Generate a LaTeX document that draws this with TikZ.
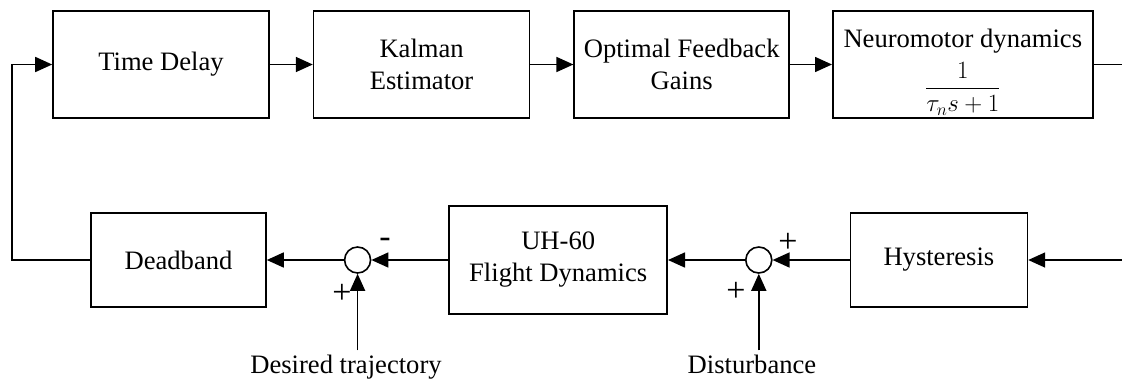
\documentclass[tikz,border=0pt]{standalone}
\usepackage{fontspec}
\setmainfont{Liberation Serif}
\usetikzlibrary{positioning,arrows.meta}

\begin{document}
\begin{tikzpicture}[->,>={Triangle[length=17pt,width=15pt]},x=1pt,y=-1pt,line width=1.6pt,node distance=43pt,font=\fontsize{26.6}{32}\selectfont]
\tikzstyle{block}=[draw,rectangle,align=center,minimum height=107pt,inner sep=0pt]
\tikzstyle{sum}=[draw,circle,minimum size=26pt,inner sep=0pt]
\tikzstyle{sign}=[font=\fontsize{34}{34}\selectfont,inner sep=0pt]
\useasboundingbox (0,0) rectangle (1122,381);
% forward path
\node[block,minimum width=216pt] (td) at (161,64.5) {Time Delay};
\node[block,minimum width=216pt] (kal) [right=of td] {Kalman\\Estimator};
\node[block,minimum width=215pt] (ofg) [right=of kal] {Optimal Feedback\\Gains};
\node[block,minimum width=260pt] (neuro) [right=42pt of ofg] {\rule{0pt}{34pt}Neuromotor dynamics\\[8pt]$\displaystyle\frac{1}{\tau_n s+1}$};
\coordinate (outR) at (1122,64.5);
% return path
\node[block,minimum width=175pt,minimum height=94pt] (dead) at (178.5,260) {Deadband};
\node[sum] (sum1) [right=77pt of dead] {};
\node[block,minimum width=218pt,minimum height=108pt] (uh) [right=77pt of sum1] {UH-60\\Flight Dynamics};
\node[sum] (sum2) [right=77pt of uh] {};
\node[block,minimum width=177pt,minimum height=94pt] (hyst) [right=77pt of sum2] {Hysteresis};
\coordinate (inR) at (1122,260);
\coordinate (fb) at (12,260);
\node[anchor=base] (dt) at (346,373) {Desired trajectory};
\node[anchor=base] (dist) at (752,373) {Disturbance};
% signs
\node[sign] (m1) at (385,243) {-};
\node[sign] (p1) at (342,294) {+};
\node[sign] (p2) at (788,243) {+};
\node[sign] (p3) at (736,292) {+};
% connections
\draw (td) -- (kal);
\draw (kal) -- (ofg);
\draw (ofg) -- (neuro);
\draw[-] (neuro) -- (outR);
\draw (inR) -- (hyst);
\draw (hyst) -- (sum2);
\draw (sum2) -- (uh);
\draw (uh) -- (sum1);
\draw (sum1) -- (dead);
\draw (dead.west) -- (fb) |- (td.west);
\draw (sum1 |- dt.north) -- (sum1);
\draw (sum2 |- dist.north) -- (sum2);
\end{tikzpicture}
\end{document}
